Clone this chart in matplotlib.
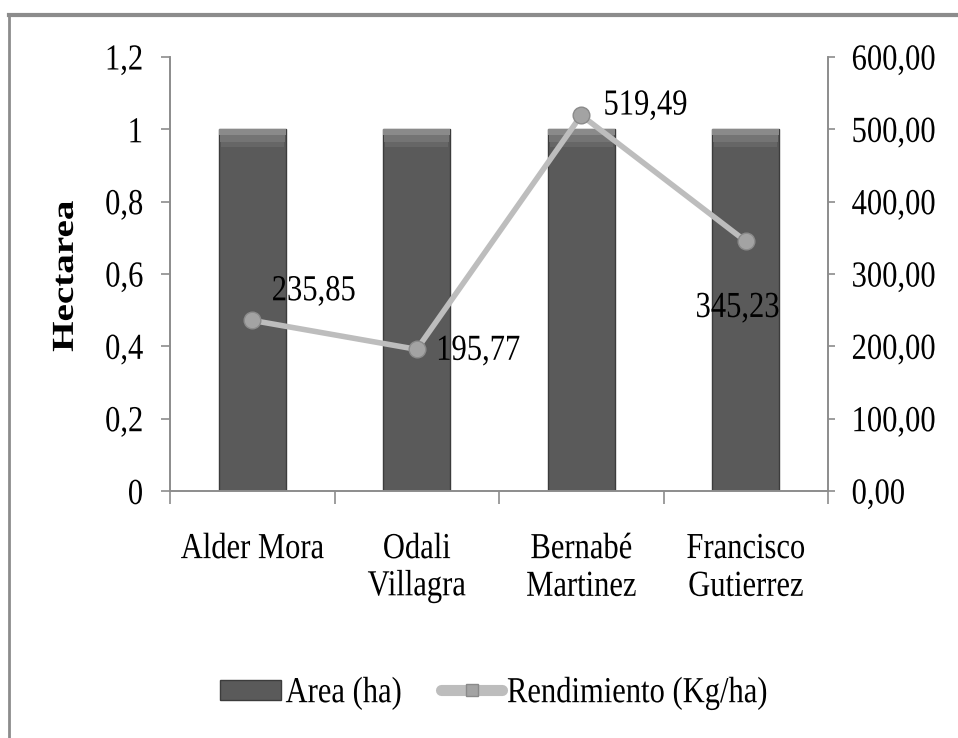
import matplotlib.pyplot as plt
from matplotlib.lines import Line2D
from matplotlib.patches import Patch
from matplotlib.patheffects import AbstractPathEffect
from matplotlib.transforms import Affine2D

productores = ["Alder Mora", "Odali\nVillagra", "Bernabé\nMartinez", "Francisco\nGutierrez"]
area_ha = [1, 1, 1, 1]
rendimiento = [235.85, 195.77, 519.49, 345.23]
etiquetas = ["235,85", "195,77", "519,49", "345,23"]
# offsets (points) for the value labels on the line
offsets = [(14, 21), (14, -1), (16, 7), (-6, -48)]

area_ticks = [0, 0.2, 0.4, 0.6, 0.8, 1, 1.2]
area_labels = ["0", "0,2", "0,4", "0,6", "0,8", "1", "1,2"]
rend_ticks = [0, 100, 200, 300, 400, 500, 600]
rend_labels = ["0,00", "100,00", "200,00", "300,00", "400,00", "500,00", "600,00"]

plt.rcParams["font.family"] = ["Liberation Serif", "DejaVu Serif"]
FS = 22
AXIS_GRAY = "#8c8c8c"
BAR_COLOR = "#5a5a5a"
LINE_COLOR = "#bdbdbd"


class Stretch(AbstractPathEffect):
    """Scale glyph outlines about their own centre (narrow, tall lettering)."""

    def __init__(self, sx=1.0, sy=1.0):
        super().__init__()
        self.sx = sx
        self.sy = sy

    def draw_path(self, renderer, gc, tpath, affine, rgbFace=None):
        ext = tpath.get_extents()
        cx = (ext.x0 + ext.x1) / 2
        cy = (ext.y0 + ext.y1) / 2
        pre = Affine2D().translate(-cx, -cy).scale(self.sx, self.sy).translate(cx, cy)
        renderer.draw_path(gc, tpath, pre + affine, rgbFace)


TALL = [Stretch(1.0, 1.2)]


def style_axis(ax):
    for side in ["left", "bottom", "right"]:
        ax.spines[side].set_color(AXIS_GRAY)
        ax.spines[side].set_linewidth(1.2)
    ax.spines["top"].set_visible(False)


fig = plt.figure(figsize=(9.58, 7.38), dpi=100, facecolor="white")
ax = fig.add_axes([0.1775, 0.3347, 0.6868, 0.5881])
ax2 = ax.twinx()

x = list(range(len(productores)))
w = 0.41

# bars, with a lighter bevel on top
ax.bar(x, area_ha, width=w, color=BAR_COLOR, edgecolor="#3c3c3c", linewidth=1, zorder=2)
for k, (h, c) in enumerate([(0.05, "#666666"), (0.034, "#747474"), (0.016, "#8a8a8a")]):
    ax.bar(x, [h] * len(x), bottom=[v - h for v in area_ha], width=w - 0.014 * (2 - k),
           color=c, linewidth=0, zorder=3 + k)

ax.set_xlim(-0.5, len(productores) - 0.5)
ax.set_ylim(0, 1.2)
ax.set_yticks(area_ticks)
ax.set_yticklabels(area_labels, fontsize=FS)
ax.tick_params(axis="y", direction="out", length=6.5, width=1.2, color=AXIS_GRAY, pad=13)

ax.set_xticks([i - 0.5 for i in range(len(productores) + 1)])
ax.set_xticklabels([""] * (len(productores) + 1))
ax.tick_params(axis="x", which="major", direction="out", length=9, width=1.2, color=AXIS_GRAY)
ax.set_xticks(x, minor=True)
ax.set_xticklabels(productores, minor=True, fontsize=FS, linespacing=1.4)
ax.tick_params(axis="x", which="minor", length=0, pad=31)

ax.set_ylabel("Hectarea", fontsize=FS, fontweight="bold")
ax.yaxis.set_label_coords(-0.137, 0.495)
ax.yaxis.label.set_path_effects([Stretch(1.28, 1.0)])
style_axis(ax)

ax2.plot(x, rendimiento, color=LINE_COLOR, linewidth=4, zorder=4,
         marker="o", markersize=12, markerfacecolor="#a3a3a3",
         markeredgecolor="#8a8a8a", markeredgewidth=1)
ax2.set_ylim(0, 600)
ax2.set_yticks(rend_ticks)
ax2.set_yticklabels(rend_labels, fontsize=FS)
ax2.tick_params(axis="y", direction="out", length=5, width=1.2, color=AXIS_GRAY, pad=12)
style_axis(ax2)

for xi, yi, txt, off in zip(x, rendimiento, etiquetas, offsets):
    t = ax2.annotate(txt, (xi, yi), xytext=off, textcoords="offset points",
                     fontsize=FS, ha="left" if off[0] > 0 else "center", va="center")
    t.set_path_effects(TALL)

for lab in (ax.get_yticklabels() + ax2.get_yticklabels()
            + ax.get_xticklabels(minor=True)):
    lab.set_path_effects(TALL)

handles = [
    Patch(facecolor=BAR_COLOR, edgecolor="#3c3c3c"),
    Line2D([], [], color=LINE_COLOR, linewidth=8, solid_capstyle="round",
           marker="s", markersize=9, markerfacecolor="#a3a3a3", markeredgecolor="#8a8a8a"),
]
leg = fig.legend(handles, ["Area (ha)", "Rendimiento (Kg/ha)"], loc="center",
                 bbox_to_anchor=(0.515, 0.061), ncol=2, frameon=False, fontsize=FS,
                 handlelength=2.0, handleheight=0.65, handletextpad=0.15,
                 columnspacing=1.3)
for t in leg.get_texts():
    t.set_path_effects(TALL)

# outer chart frame
fig.add_artist(Line2D([0.0094, 1.0], [0.98, 0.98], color=AXIS_GRAY, linewidth=3,
                      transform=fig.transFigure))
fig.add_artist(Line2D([0.0094, 0.0094], [0.0, 0.98], color=AXIS_GRAY, linewidth=2,
                      transform=fig.transFigure))

fig.savefig("out.png", dpi=100, facecolor="white")
